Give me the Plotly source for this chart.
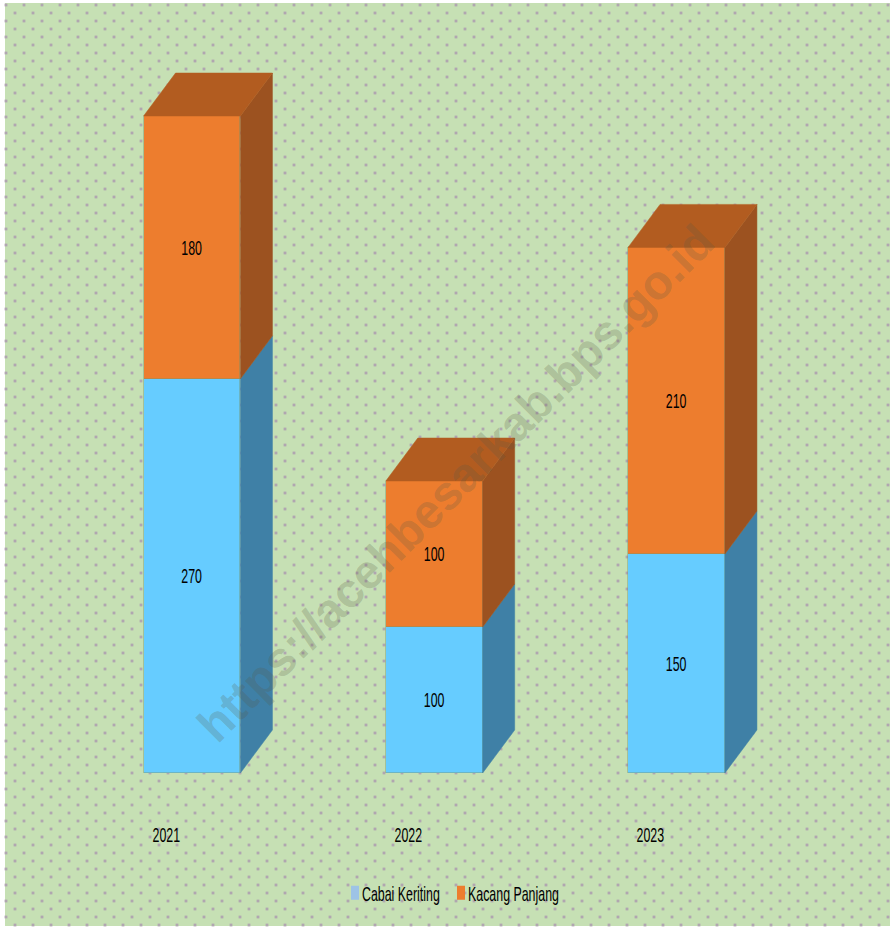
import numpy as np
import plotly.graph_objects as go

W, H = 894, 929

years = ["2021", "2022", "2023"]
cabai_keriting = [270, 100, 150]
kacang_panjang = [180, 100, 210]
positions = [0, 1, 2]

BLUE, BLUE_SIDE = "#66CCFF", "#3F80A6"
ORANGE, ORANGE_SIDE, ORANGE_TOP = "#ED7D2E", "#9C5220", "#B25C20"
PANEL = "#C6E0B4"
DOT = "#B0A6B0"
FONT = "Liberation Sans, sans-serif"
FS = 21

# axis calibration: bar centres 242.25 px apart, 1.46 px per unit, zero line at px 773
PX_X, X0 = 242.25, 192
PX_Y, Y0 = 1.46, 773
BAR_W = 0.40
DX, DY = 32 / PX_X, 43 / PX_Y

fig = go.Figure()

# background dot texture (decoration) on the pixel-scaled primary axes
cols = np.arange(6, 892, 18)
rows = np.arange(5, 926, 8)
dx_pts, dy_pts = [], []
for r, yy in enumerate(rows):
    for xx in cols + (0 if r % 2 == 0 else 9):
        if xx < 889:
            dx_pts.append(float(xx))
            dy_pts.append(float(yy))
fig.add_trace(go.Scatter(x=dx_pts, y=dy_pts, mode="markers", hoverinfo="skip", showlegend=False,
                         marker=dict(symbol="square", size=2.8, color=DOT, line_width=0),
                         xaxis="x", yaxis="y"))

# front faces
for name, vals, col in [("Cabai Keriting", cabai_keriting, BLUE), ("Kacang Panjang", kacang_panjang, ORANGE)]:
    fig.add_trace(go.Bar(x=positions, y=vals, name=name, width=BAR_W, showlegend=False,
                         marker=dict(color=col, line=dict(color="rgba(120,150,110,0.6)", width=0.7)),
                         text=[str(v) for v in vals], textposition="inside", insidetextanchor="middle",
                         textangle=0, constraintext="none",
                         textfont=dict(family=FONT, size=FS, color="black"),
                         xaxis="x2", yaxis="y2"))

# side and top faces of the boxes, derived from the same values
def face(xs, ys, col):
    fig.add_trace(go.Scatter(x=xs, y=ys, mode="lines", fill="toself", fillcolor=col,
                             line=dict(color=col, width=0.5), hoverinfo="skip", showlegend=False,
                             xaxis="x2", yaxis="y2"))

for p, a, b in zip(positions, cabai_keriting, kacang_panjang):
    r = p + BAR_W / 2
    l = p - BAR_W / 2
    face([r, r + DX, r + DX, r, r], [0, DY, a + DY, a, 0], BLUE_SIDE)
    face([r, r + DX, r + DX, r, r], [a, a + DY, a + b + DY, a + b, a], ORANGE_SIDE)
    face([l, l + DX, r + DX, r, l], [a + b, a + b + DY, a + b + DY, a + b, a + b], ORANGE_TOP)

# legend entries (swatch colours differ from the bar colours in the original)
fig.add_trace(go.Scatter(x=[None], y=[None], mode="markers", name="Cabai Keriting", legend="legend",
                         marker=dict(symbol="square", size=11, color="#9DC3E6"), xaxis="x2", yaxis="y2"))
fig.add_trace(go.Scatter(x=[None], y=[None], mode="markers", name="Kacang Panjang", legend="legend2",
                         marker=dict(symbol="square", size=11, color=ORANGE), xaxis="x2", yaxis="y2"))

annotations = [dict(x=p - 0.107, y=(Y0 - 834) / PX_Y, xref="x2", yref="y2", text=t, showarrow=False,
                    font=dict(family=FONT, size=FS, color="black")) for p, t in zip(positions, years)]
annotations.append(dict(x=455 / W, y=1 - 483 / H, xref="paper", yref="paper", showarrow=False, textangle=-45,
                        text="<b>https://acehbesarkab.bps.go.id</b>",
                        font=dict(family="Liberation Sans", size=48, color="rgba(90,90,70,0.24)")))

hidden = dict(visible=False, fixedrange=True)
legend_style = dict(yanchor="middle", y=1 - 893 / H, xanchor="left", bgcolor="rgba(0,0,0,0)",
                    font=dict(family=FONT, size=FS, color="black"), itemwidth=30)
fig.update_layout(
    width=W, height=H, margin=dict(l=0, r=0, t=0, b=0),
    paper_bgcolor="white", plot_bgcolor="rgba(0,0,0,0)",
    barmode="stack", bargap=0,
    xaxis=dict(range=[0, W], domain=[0, 1], **hidden),
    yaxis=dict(range=[H, 0], domain=[0, 1], **hidden),
    xaxis2=dict(range=[-X0 / PX_X, (W - X0) / PX_X], domain=[0, 1], anchor="y2", **hidden),
    yaxis2=dict(range=[(Y0 - H) / PX_Y, Y0 / PX_Y], domain=[0, 1], anchor="x2", **hidden),
    shapes=[dict(type="rect", xref="paper", yref="paper", x0=5 / W, x1=890 / W, y0=1 - 926 / H, y1=1 - 3 / H,
                 fillcolor=PANEL, line_width=0, layer="below")],
    annotations=annotations,
    showlegend=True,
    legend=dict(x=335 / W, **legend_style),
    legend2=dict(x=441 / W, **legend_style),
)

# The original text is a condensed face: squeeze the glyphs horizontally, tighten the legend keys.
post = """
(function(){
  function fix(){
    document.body.style.margin='0';
    document.documentElement.style.overflow='hidden';
    document.querySelectorAll('text').forEach(function(t){
      var cls = t.getAttribute('class') || '';
      if(!/bartext|annotation-text|legend\\d*text/.test(cls)) return;
      if(t.textContent.indexOf('http')===0) return;
      if(!t.dataset.w){
        t.removeAttribute('textLength');
        var w = t.getComputedTextLength();
        if(w>0) t.dataset.w = w;
      }
      if(t.dataset.w){
        t.setAttribute('textLength', t.dataset.w*0.59);
        t.setAttribute('lengthAdjust','spacingAndGlyphs');
      }
      if(/legend\\d*text/.test(cls)) t.setAttribute('x', 27);
    });
    document.querySelectorAll('.legendpoints path').forEach(function(p){
      p.setAttribute('d','M-4,-7H4V7H-4Z');
    });
  }
  fix();
  var n=0, id=setInterval(function(){ fix(); if(++n>40) clearInterval(id); },50);
})();
"""
fig.write_html("out.html", config=dict(displayModeBar=False), post_script=post)
